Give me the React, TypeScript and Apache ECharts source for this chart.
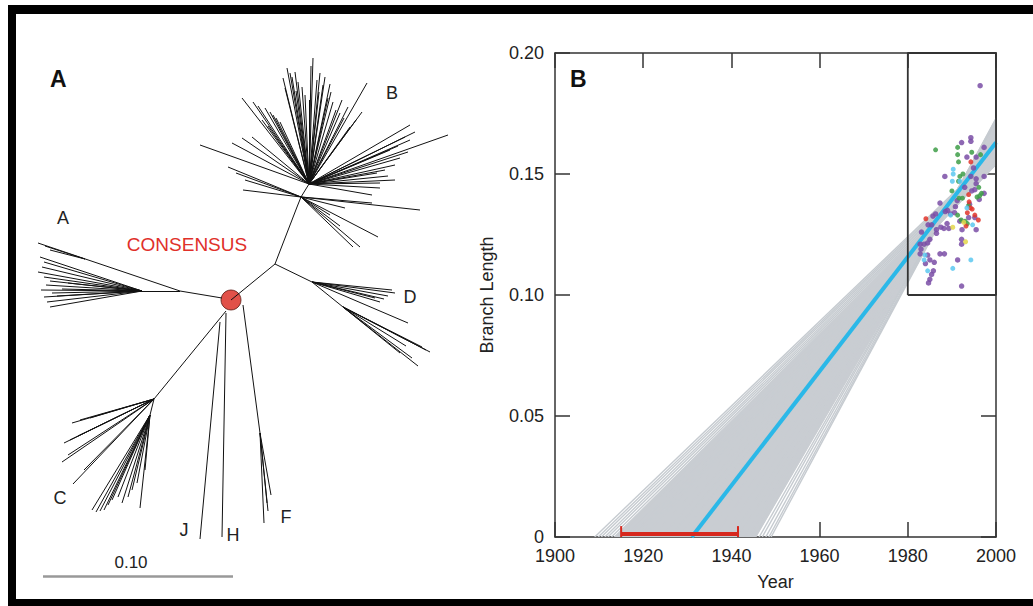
import React, { useEffect, useRef } from "react";
import * as echarts from "echarts";

// ---------- Panel B data ----------
const xTicks = [1900, 1920, 1940, 1960, 1980, 2000];
const yTickLabels = ["0", "0.05", "0.10", "0.15", "0.20"];

// regression fan: x-intercept year and fitted branch length at 2000
const fanStart = [1909, 1909.8, 1910.5, 1911.3, 1912, 1912.8, 1913.5, 1914.3, 1915, 1916, 1917, 1918, 1919, 1920, 1922, 1924, 1926, 1928, 1930, 1932, 1934, 1936, 1938, 1940, 1941.5, 1943, 1944, 1944.8, 1945.5, 1946.3, 1947, 1947.8, 1948.5, 1949];
const fanEnd = [0.159, 0.1585, 0.158, 0.1575, 0.157, 0.1565, 0.156, 0.1558, 0.1555, 0.155, 0.1548, 0.1545, 0.154, 0.154, 0.155, 0.156, 0.158, 0.16, 0.161, 0.163, 0.164, 0.165, 0.166, 0.167, 0.168, 0.169, 0.17, 0.1705, 0.171, 0.1715, 0.172, 0.1723, 0.1727, 0.173];
const fanCoreFrom = 6;
const fanCoreTo = 28;

const bestFit = [[1931, 0], [2000, 0.163]];
const tmrcaInterval = [1915, 1941.5];

const insetBox = [[1980, 0.1], [1980, 0.2], [2000, 0.2], [2000, 0.1], [1980, 0.1]];

const subtypeB = [
  [1996.4, 0.1865], [1992.2, 0.163], [1994.3, 0.165], [1994.3, 0.1635], [1993.4, 0.157], [1995.5, 0.157], [1997.3, 0.161],
  [1988.4, 0.149], [1994.3, 0.149], [1995.5, 0.148], [1995.5, 0.146], [1994.5, 0.143], [1995.2, 0.1435], [1997.3, 0.149],
  [1997.3, 0.142], [1987.3, 0.138], [1989, 0.135], [1991.2, 0.139], [1994, 0.1375], [1985.7, 0.1326], [1986.3, 0.1335],
  [1988.5, 0.1345], [1989.7, 0.1335], [1990.6, 0.134], [1993.8, 0.132], [1995.2, 0.132], [1984.6, 0.129], [1985.4, 0.129],
  [1983.1, 0.126], [1986.5, 0.127], [1986.5, 0.1255], [1987.5, 0.128], [1988.2, 0.1275], [1989.3, 0.1275], [1992.3, 0.127],
  [1995.5, 0.127], [1992.2, 0.123], [1992.2, 0.121], [1982.8, 0.121], [1983.7, 0.121], [1984.5, 0.1215], [1985, 0.123],
  [1983, 0.119], [1982.8, 0.117], [1987.3, 0.117], [1988.3, 0.117], [1984.5, 0.1165], [1985, 0.1145], [1984, 0.113],
  [1986, 0.1135], [1985.8, 0.11], [1985.4, 0.1085], [1985, 0.1065], [1984.7, 0.105], [1991.3, 0.1145], [1992.2, 0.1037],
  [1990.8, 0.1365], [1992.9, 0.1445], [1996.2, 0.1395], [1991.8, 0.1305], [1988.9, 0.1295], [1994.9, 0.1525]
];
const subtypeC = [
  [1986.3, 0.16], [1991.3, 0.161], [1991.3, 0.158], [1991.5, 0.155], [1994.5, 0.159], [1996.5, 0.158], [1991.5, 0.147],
  [1991.8, 0.149], [1992.5, 0.15], [1990, 0.143], [1991.6, 0.14], [1992.4, 0.14], [1995.7, 0.1405], [1996.3, 0.141],
  [1993.8, 0.137], [1991.3, 0.133], [1992.1, 0.131], [1993, 0.1305], [1993.5, 0.1295], [1996.1, 0.1445], [1996.7, 0.142]
];
const subtypeA = [
  [1994.3, 0.155], [1993.8, 0.1415], [1993.9, 0.1385], [1994.2, 0.136], [1993.5, 0.134], [1995.2, 0.133], [1996, 0.131],
  [1984.1, 0.1315], [1993.2, 0.1285], [1994.6, 0.1355]
];
const subtypeD = [
  [1990.3, 0.152], [1990.3, 0.15], [1990.1, 0.147], [1989.7, 0.133], [1993.4, 0.136], [1994.7, 0.129], [1983.9, 0.1165],
  [1983.7, 0.1145], [1984.5, 0.11], [1994.3, 0.1145], [1990.2, 0.111], [1991.8, 0.147]
];
const subtypeF = [[1990.2, 0.128], [1993.1, 0.122], [1992.7, 0.13]];

// ---------- Panel A data: unrooted tree layout (node coordinates) ----------
const consensusNode = [231, 300];
const treeBackbone = [
  [231, 300, 275, 264], [275, 264, 297, 207], [297, 207, 301, 197], [301, 197, 309, 184],
  [275, 264, 312, 282], [312, 282, 343, 307],
  [222, 298, 180, 291], [180, 291, 142, 291], [180, 291, 38, 243], [85, 259, 45, 246], [85, 259, 50, 250],
  [226, 311, 154, 399], [154, 399, 150, 415],
  [220, 322, 200, 539], [226, 313, 222, 537],
  [243, 305, 260, 433], [260, 433, 264, 523]
];
const bHub = [309, 184];
const bTips = [
  [200, 145], [232, 143], [242, 138], [252, 137], [242, 98], [253, 102], [258, 106], [265, 108], [270, 112], [273, 115],
  [276, 118], [280, 122], [283, 78], [287, 68], [290, 73], [292, 77], [295, 72], [298, 82], [302, 87], [305, 95], [309, 100],
  [313, 58], [317, 80], [320, 73], [323, 85], [325, 77], [328, 98], [331, 92], [333, 102], [336, 110], [340, 113],
  [344, 118], [348, 107], [350, 127], [356, 120], [362, 112], [367, 83], [410, 125], [415, 132], [448, 135], [405, 137],
  [410, 140], [408, 152], [400, 158], [395, 165], [395, 180], [388, 176], [380, 183], [380, 188], [372, 195], [385, 170],
  [377, 173], [285, 88], [296, 91], [311, 66], [319, 92], [330, 84], [342, 100], [390, 150], [398, 146], [262, 120], [268, 126]
];
const bNode2 = [301, 197];
const bNode2Tips = [[228, 167], [245, 180], [243, 190], [345, 208], [378, 237], [360, 247], [353, 247], [340, 226], [330, 215], [372, 203], [420, 210], [236, 173]];
const dHub = [312, 282];
const dTips = [[395, 293], [392, 290], [388, 296], [384, 299], [380, 302], [375, 298], [408, 323]];
const dNode2 = [343, 307];
const dNode2Tips = [[430, 352], [426, 350], [422, 347], [418, 366], [412, 358], [406, 346], [400, 353]];
const aHub = [142, 291];
const aTips = [[40, 257], [44, 262], [42, 267], [38, 272], [44, 277], [50, 281], [46, 285], [41, 290], [52, 293], [44, 297], [47, 302], [50, 307], [62, 289], [57, 296], [68, 283]];
const cNode = [154, 399];
const cTips = [[72, 423], [80, 420], [90, 418], [64, 443], [70, 440], [78, 436], [62, 462], [68, 455], [73, 484], [84, 470]];
const cNode2 = [150, 415];
const cNode2Tips = [[92, 510], [96, 512], [100, 511], [104, 510], [108, 505], [112, 500], [118, 497], [122, 503], [128, 497], [132, 490], [137, 483], [140, 508], [145, 470]];
const fNode = [260, 433];
const fTips = [[268, 511], [271, 495], [267, 503]];

const cladeLabels = [
  { name: "A", pos: [63, 218] }, { name: "B", pos: [392, 93] }, { name: "C", pos: [60, 498] }, { name: "D", pos: [410, 297] },
  { name: "F", pos: [286, 517] }, { name: "H", pos: [233, 535] }, { name: "J", pos: [184, 530] }
];

const FONT = "'Liberation Sans', Arial, Helvetica, sans-serif";

function fan(hub: number[], tips: number[][]) {
  return tips.map((t) => [hub[0], hub[1], t[0], t[1]]);
}

export default function App() {
  const ref = useRef<HTMLDivElement>(null);
  useEffect(() => {
    if (!ref.current) return;
    const chart = echarts.init(ref.current, undefined, { renderer: "svg" });

    const edges = [
      ...treeBackbone,
      ...fan(bHub, bTips), ...fan(bNode2, bNode2Tips), ...fan(dHub, dTips), ...fan(dNode2, dNode2Tips),
      ...fan(aHub, aTips), ...fan(cNode, cTips), ...fan(cNode2, cNode2Tips), ...fan(fNode, fTips)
    ];

    const axisCol = "#333";
    const scatterBase = (data: number[][], color: string, size: number) => ({
      type: "scatter", xAxisIndex: 1, yAxisIndex: 1, data, symbolSize: size, z: 5,
      itemStyle: { color, opacity: 0.85 }, silent: true
    });
    const line = { onZero: false, lineStyle: { color: axisCol, width: 1.5 } };
    const tick = { show: true, inside: true, length: 15, lineStyle: { color: axisCol, width: 1.5 } };
    const GRAY = "#c9cdd2";

    const option: any = {
      animation: false,
      backgroundColor: "#fff",
      textStyle: { fontFamily: FONT },
      grid: [
        { left: 0, top: 0, width: 1033, height: 606 },
        { left: 555, top: 53, width: 441, height: 484 }
      ],
      xAxis: [
        { gridIndex: 0, type: "value", min: 0, max: 1033, show: false },
        {
          gridIndex: 1, type: "value", min: 1900, max: 2000, interval: 20, position: "bottom",
          axisLine: line, axisTick: tick,
          axisLabel: { fontSize: 18, color: "#222", margin: 10, fontFamily: FONT, formatter: (v: number) => String(xTicks.find((t) => t === v) ?? v) },
          splitLine: { show: false },
          name: "Year", nameLocation: "middle", nameGap: 36,
          nameTextStyle: { fontSize: 18, color: "#222", fontFamily: FONT }
        },
        {
          gridIndex: 1, type: "value", min: 1900, max: 2000, interval: 20, position: "top",
          axisLine: line, axisTick: tick,
          axisLabel: { show: false }, splitLine: { show: false }
        }
      ],
      yAxis: [
        { gridIndex: 0, type: "value", min: 0, max: 606, inverse: true, show: false },
        {
          gridIndex: 1, type: "value", min: 0, max: 0.2, interval: 0.05, position: "left",
          axisLine: { show: true, ...line }, axisTick: tick,
          axisLabel: { fontSize: 18, color: "#222", margin: 11, fontFamily: FONT, formatter: (v: number) => yTickLabels[Math.round(v / 0.05)] },
          splitLine: { show: false },
          name: "Branch Length", nameLocation: "middle", nameGap: 59, nameRotate: 90,
          nameTextStyle: { fontSize: 18, color: "#222", fontFamily: FONT }
        },
        {
          gridIndex: 1, type: "value", min: 0, max: 0.2, interval: 0.05, position: "right",
          axisLine: { show: true, ...line }, axisTick: tick,
          axisLabel: { show: false }, splitLine: { show: false }
        }
      ],
      series: [
        // ---- Panel A tree ----
        {
          type: "scatter", xAxisIndex: 0, yAxisIndex: 0, data: [consensusNode], symbolSize: 20, z: 2,
          itemStyle: { color: "#d9261c", borderColor: "#5a1a14", borderWidth: 1 }, silent: true
        },
        {
          type: "lines", coordinateSystem: "cartesian2d", xAxisIndex: 0, yAxisIndex: 0, z: 3, silent: true,
          lineStyle: { color: "#111", width: 1, opacity: 1 },
          data: edges.map((e) => ({ coords: [[e[0], e[1]], [e[2], e[3]]] }))
        },
        {
          type: "lines", coordinateSystem: "cartesian2d", xAxisIndex: 0, yAxisIndex: 0, z: 3, silent: true,
          lineStyle: { color: "#999", width: 2.5, opacity: 1 },
          data: [{ coords: [[43, 576], [233, 576]] }]
        },
        // ---- Panel B fan ----
        {
          type: "custom", xAxisIndex: 1, yAxisIndex: 1, z: 1, silent: true, clip: true,
          data: fanStart.map((t, i) => [t, fanEnd[i]]),
          renderItem: (params: any, api: any) => {
            const i = params.dataIndex;
            const p0 = api.coord([fanStart[i], 0]);
            const p1 = api.coord([2000, fanEnd[i]]);
            const children: any[] = [];
            const core = i >= fanCoreFrom && i <= fanCoreTo;
            if (i >= fanCoreFrom && i < fanCoreTo) {
              const q0 = api.coord([fanStart[i + 1], 0]);
              const q1 = api.coord([2000, fanEnd[i + 1]]);
              children.push({ type: "polygon", shape: { points: [p0, p1, q1, q0] }, style: { fill: GRAY, stroke: GRAY, lineWidth: 0.8 } });
            }
            children.push({ type: "line", shape: { x1: p0[0], y1: p0[1], x2: p1[0], y2: p1[1] }, style: { stroke: core ? GRAY : "#c6cbd0", lineWidth: 1.4 } });
            return { type: "group", children };
          }
        },
        {
          type: "line", xAxisIndex: 1, yAxisIndex: 1, data: bestFit, symbol: "none", z: 4, silent: true,
          lineStyle: { color: "#2bb8e8", width: 4 }
        },
        {
          type: "line", xAxisIndex: 1, yAxisIndex: 1, data: [[tmrcaInterval[0], 0.0012], [tmrcaInterval[1], 0.0012]], symbol: "none", z: 6, silent: true,
          lineStyle: { color: "#d7281e", width: 4 }
        },
        {
          type: "line", xAxisIndex: 1, yAxisIndex: 1, data: [[tmrcaInterval[0], 0], [tmrcaInterval[0], 0.0045]], symbol: "none", z: 6, silent: true,
          lineStyle: { color: "#d7281e", width: 2 }
        },
        {
          type: "line", xAxisIndex: 1, yAxisIndex: 1, data: [[tmrcaInterval[1], 0], [tmrcaInterval[1], 0.0045]], symbol: "none", z: 6, silent: true,
          lineStyle: { color: "#d7281e", width: 2 }
        },
        {
          type: "line", xAxisIndex: 1, yAxisIndex: 1, data: insetBox, symbol: "none", z: 7, silent: true,
          lineStyle: { color: "#333", width: 1.8 }
        },
        scatterBase(subtypeB, "#7a4ea6", 5.5),
        scatterBase(subtypeC, "#3e9e48", 5),
        scatterBase(subtypeA, "#e0352b", 5),
        scatterBase(subtypeD, "#5cc8f0", 5),
        scatterBase(subtypeF, "#e3d64a", 5)
      ],
      graphic: [
        { type: "rect", shape: { x: 8, y: 5, width: 1025, height: 9 }, style: { fill: "#000" }, z: 100 },
        { type: "rect", shape: { x: 8, y: 5, width: 8, height: 601 }, style: { fill: "#000" }, z: 100 },
        { type: "rect", shape: { x: 8, y: 599, width: 1025, height: 7 }, style: { fill: "#000" }, z: 100 },
        { type: "text", x: 50, y: 67, style: { text: "A", font: `bold 23px ${FONT}`, fill: "#111" } },
        { type: "text", x: 570, y: 67, style: { text: "B", font: `bold 23px ${FONT}`, fill: "#111" } },
        { type: "text", x: 187, y: 244, style: { text: "CONSENSUS", font: `19px ${FONT}`, fill: "#e0302a", textAlign: "center", textVerticalAlign: "middle" } },
        { type: "text", x: 131, y: 562, style: { text: "0.10", font: `17px ${FONT}`, fill: "#222", textAlign: "center", textVerticalAlign: "middle" } },
        ...cladeLabels.map((c) => ({
          type: "text", x: c.pos[0], y: c.pos[1],
          style: { text: c.name, font: `18px ${FONT}`, fill: "#222", textAlign: "center", textVerticalAlign: "middle" }
        }))
      ]
    };
    chart.setOption(option);
    return () => chart.dispose();
  }, []);
  return <div ref={ref} style={{ position: "absolute", left: 0, top: 0, width: 1033, height: 606, background: "#fff" }} />;
}
